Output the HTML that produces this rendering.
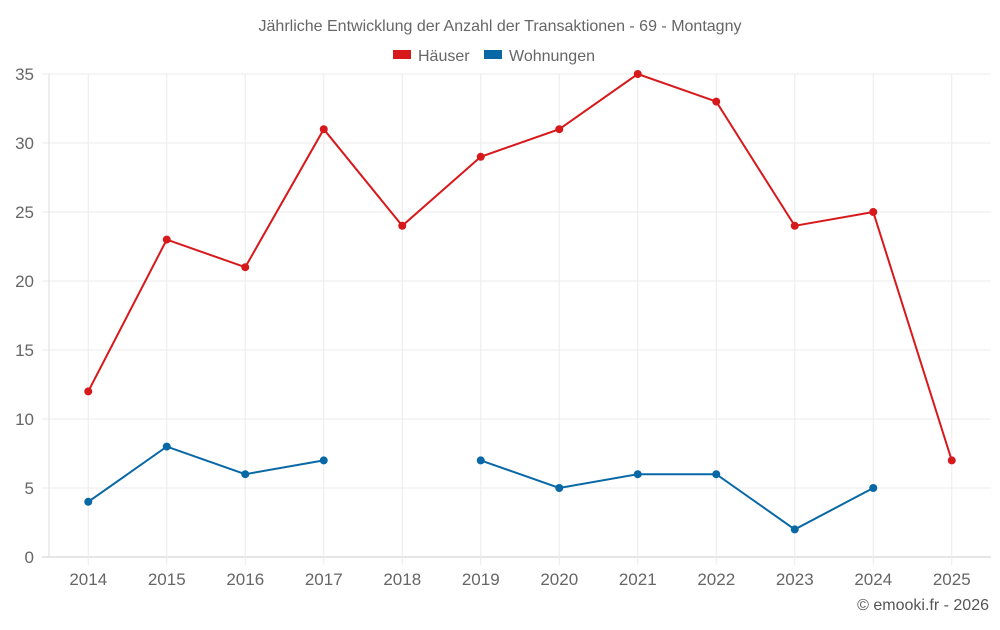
<!DOCTYPE html>
<html><head><meta charset="utf-8"><style>
body{margin:0;background:#fff;font-family:"Liberation Sans",sans-serif}
svg text{font-family:"Liberation Sans",sans-serif}
</style></head><body>
<svg id="c" width="1000" height="625">
<text x="500" y="31" text-anchor="middle" font-size="16" fill="#666">Jährliche Entwicklung der Anzahl der Transaktionen - 69 - Montagny</text>
<g><rect x="393" y="50" width="18" height="9" fill="#d7191c"/><text x="418" y="61" font-size="16" fill="#666">Häuser</text></g>
<g><rect x="484" y="50" width="18" height="9" fill="#0868a6"/><text x="509" y="61" font-size="16" fill="#666">Wohnungen</text></g>
<text x="989" y="610" text-anchor="end" font-size="16" fill="#555">© emooki.fr - 2026</text>
<g id="grid"></g><g id="series"></g>
</svg>
<script>
const categories=['2014','2015','2016','2017','2018','2019','2020','2021','2022','2023','2024','2025'];
const haeuser=[12,23,21,31,24,29,31,35,33,24,25,7];
const wohnungen=[4,8,6,7,null,7,5,6,6,2,5,null];
const yTicks=[0,5,10,15,20,25,30,35];
const L=49,R=991,T=74,B=557,yMax=35;
const bw=(R-L)/categories.length;
const x=i=>L+bw*(i+0.5);
const y=v=>B-(v/yMax)*(B-T);
const NS='http://www.w3.org/2000/svg';
const g=document.getElementById('grid'),s=document.getElementById('series');
function mk(tag,a,p){const e=document.createElementNS(NS,tag);for(const k in a)e.setAttribute(k,a[k]);p.appendChild(e);return e;}
yTicks.forEach(t=>{
 const l=mk('line',{x1:L-7,x2:R,y1:y(t),y2:y(t),stroke:t===0?'#ccc':'#ebebeb','stroke-width':1},g);
 
 
 const tx=mk('text',{x:L-15,y:y(t)+6,'text-anchor':'end','font-size':17,fill:'#666'},g);
 tx.textContent=t;
 
 
});
categories.forEach((c,i)=>{
 const l=mk('line',{x1:x(i),x2:x(i),y1:T,y2:B+8,stroke:'#ebebeb','stroke-width':1},g);
 
 
 const tx=mk('text',{x:x(i),y:585,'text-anchor':'middle','font-size':17,fill:'#666'},g);
 tx.textContent=c;
 
 
});
const ax=mk('line',{x1:L,x2:L,y1:T,y2:B,stroke:'#ddd'},g);


function draw(data,color,name){
 let d='',pen=false;
 data.forEach((v,i)=>{if(v===null){pen=false;return;}d+=(pen?'L':'M')+x(i)+' '+y(v)+' ';pen=true;});
 const p=mk('path',{d:d,fill:'none',stroke:color,'stroke-width':2},s);
 
 
 data.forEach((v,i)=>{if(v===null)return;
  const c=mk('circle',{cx:x(i),cy:y(v),r:4,fill:color},s);
  
  
 });
}
draw(haeuser,'#d7191c','haeuser');
draw(wohnungen,'#0868a6','wohnungen');
</script>
</body></html>
